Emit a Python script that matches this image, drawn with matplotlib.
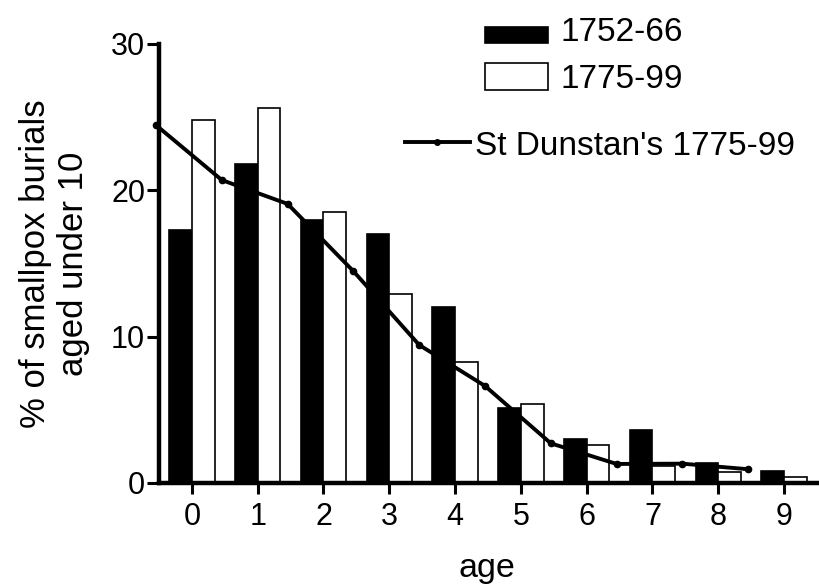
import numpy as np
import matplotlib
matplotlib.use('Agg')
import matplotlib.pyplot as plt
from matplotlib.patches import Rectangle
from matplotlib.lines import Line2D

plt.rcParams['font.family'] = ['Liberation Sans', 'DejaVu Sans']

# Daten
ages = np.arange(10)
burials_1752_66 = [17.3, 21.8, 18.0, 17.0, 12.0, 5.15, 3.0, 3.6, 1.35, 0.82]
burials_1775_99 = [24.8, 25.6, 18.5, 12.9, 8.3, 5.4, 2.6, 1.15, 0.73, 0.39]
dunstan_1775_99 = [24.45, 20.7, 19.07, 14.47, 9.43, 6.63, 2.71, 1.3, 1.32, 0.94]

fig = plt.figure(figsize=(8.2, 5.87), dpi=100)
ax = fig.add_axes([0.1939, 0.1772, 0.8024, 0.7479])

w = 0.345
ax.bar(ages - w / 2, burials_1752_66, width=w, color='black',
       edgecolor='black', linewidth=1.2, zorder=2)
ax.bar(ages + w / 2, burials_1775_99, width=w, color='white',
       edgecolor='black', linewidth=1.2, zorder=2)
ax.plot(ages - 0.545, dunstan_1775_99, color='black', lw=2.8,
        marker='o', ms=4.5, zorder=3, clip_on=False)

ax.set_xlim(-0.5, 9.5)
ax.set_ylim(0, 30)
ax.set_xticks(ages)
ax.set_yticks([0, 10, 20, 30])
for s in ['top', 'right']:
    ax.spines[s].set_visible(False)
for s in ['left', 'bottom']:
    ax.spines[s].set_linewidth(3.2)
ax.tick_params(axis='x', length=8, width=2.2, pad=6, labelsize=22)
ax.tick_params(axis='y', length=9, width=2.2, pad=1, labelsize=22)

fig.text(0.0665, 0.551, "% of smallpox burials\naged under 10", rotation=90,
         ha='center', va='center', fontsize=25, linespacing=1.2)
fig.text(0.594, 0.017, "age", ha='center', va='baseline', fontsize=24.5)

# Legende von Hand
fig.patches.append(Rectangle((0.5915, 0.9267), 0.0768, 0.0273,
                             transform=fig.transFigure, facecolor='black',
                             edgecolor='black', lw=1.2))
fig.patches.append(Rectangle((0.5915, 0.8467), 0.0768, 0.046,
                             transform=fig.transFigure, facecolor='white',
                             edgecolor='black', lw=1.2))
fig.lines.append(Line2D([0.494, 0.5335, 0.573], [0.758, 0.758, 0.758],
                        transform=fig.transFigure, color='black', lw=2.8,
                        marker='o', ms=4, markevery=[1]))
fig.text(0.683, 0.930, "1752-66", va='baseline', fontsize=24)
fig.text(0.683, 0.850, "1775-99", va='baseline', fontsize=24)
fig.text(0.579, 0.736, "St Dunstan's 1775-99", va='baseline', fontsize=24)

fig.savefig('out.png', dpi=100)
